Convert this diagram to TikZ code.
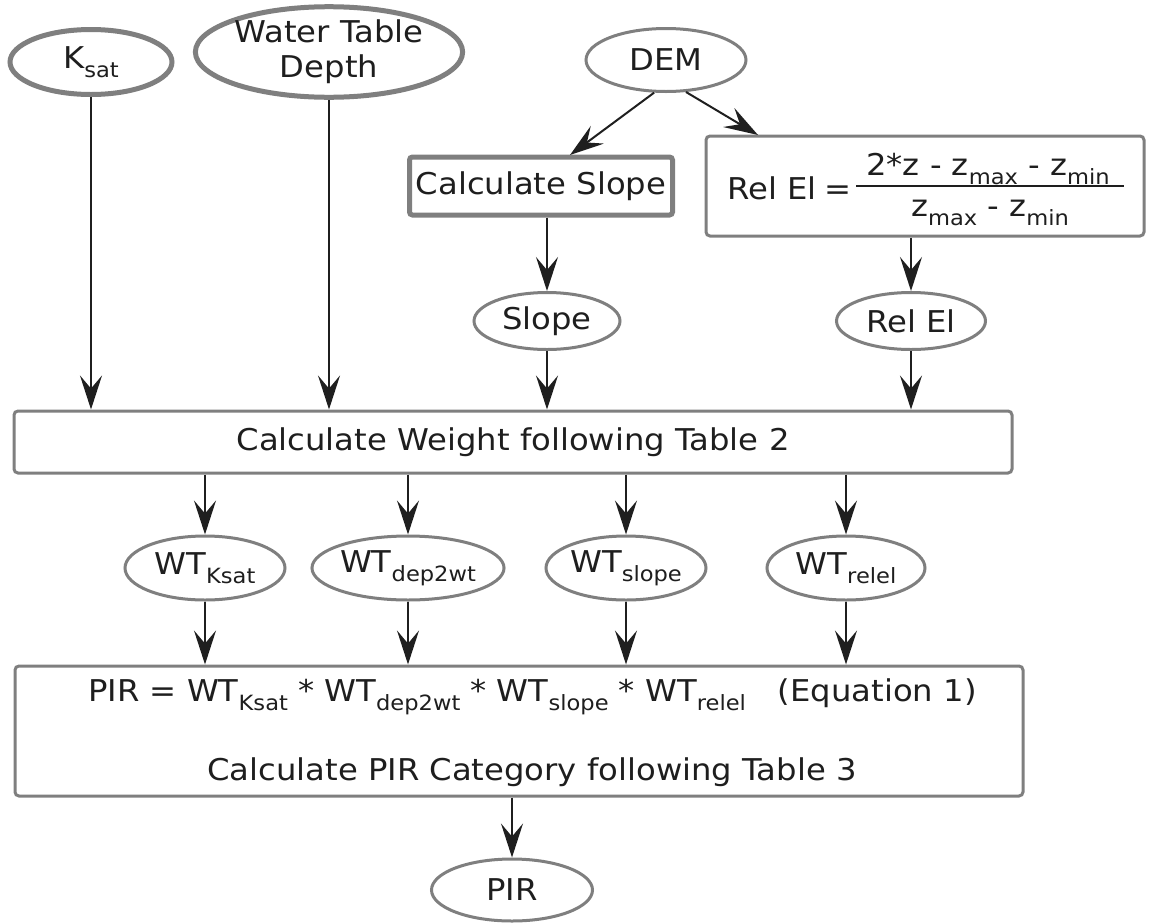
\documentclass[tikz,border=0pt]{standalone}
\usepackage{fontspec}
\setmainfont{DejaVu Sans}[FakeStretch=1.075]
\usetikzlibrary{arrows.meta,shapes.geometric}
\newcommand\sbs[1]{\raisebox{-0.3em}{\fontsize{21}{21}\selectfont #1}}
\definecolor{edgegray}{HTML}{7F7F7F}
\definecolor{txt}{HTML}{1E1E1E}
\begin{document}
\begin{tikzpicture}[x=1pt,y=-1pt,
  every node/.style={font=\fontsize{30}{35}\selectfont, text=txt},
  thickell/.style={ellipse, draw=edgegray, line width=5pt, inner sep=0pt, fill=white},
  thinell/.style={ellipse, draw=edgegray, line width=3pt, inner sep=0pt, fill=white},
  thickbox/.style={rectangle, draw=edgegray, line width=5pt, rounded corners=3pt, inner sep=0pt, fill=white},
  thinbox/.style={rectangle, draw=edgegray, line width=3pt, rounded corners=4pt, inner sep=0pt, fill=white},
  conn/.style={draw=black!88, line width=2pt, -{Stealth[length=34pt,width=22pt,inset=13pt]}},
  plain/.style={inner sep=0pt}
]
\useasboundingbox (0,0) rectangle (1149,924);

% top inputs
\node[thickell, minimum width=162pt, minimum height=65pt] (ksat) at (91,62) {K\sbs{sat}};
\node[thickell, minimum width=243pt, minimum height=90pt, align=center] (wtd) at (329,52)
  {\fontsize{30}{35}\selectfont Water Table\\Depth};
\node[thinell, minimum width=160pt, minimum height=63pt] (dem) at (666,60) {DEM};

% processing boxes
\node[thickbox, minimum width=263pt, minimum height=58pt] (cslope) at (541,186) {Calculate Slope};
\node[thinbox, minimum width=438pt, minimum height=100pt] (relbox) at (925,186) {};
\node[plain, anchor=base west] (releq) at (727,199) {Rel El\hspace{-2pt} =};
\node[plain, anchor=base] (num) at (988,175) {2*z - z\sbs{max} - z\sbs{min}};
\node[plain, anchor=base] (den) at (990,216) {z\sbs{max} - z\sbs{min}};
\draw[draw=txt, line width=2pt] (856,186) -- (1124,186);

% derived
\node[thinell, minimum width=146pt, minimum height=57pt] (slope) at (547,321) {Slope};
\node[thinell, minimum width=149pt, minimum height=57pt] (relel) at (911,321) {Rel El};

% weights
\node[thinbox, minimum width=998pt, minimum height=62pt] (weight) at (513,442) {Calculate Weight following Table 2};

\node[thinell, minimum width=160pt, minimum height=64pt] (wk) at (205,568) {WT\sbs{Ksat}};
\node[thinell, minimum width=155pt, minimum height=64pt] (wd) at (408,568) {WT\sbs{dep2wt}};
\node[thinell, minimum width=160pt, minimum height=64pt] (ws) at (626,568) {WT\sbs{slope}};
\node[thinell, minimum width=158pt, minimum height=64pt] (wr) at (846,568) {WT\sbs{relel}};

% PIR
\node[thinbox, minimum width=1008pt, minimum height=130pt] (pirbox) at (519,731) {};
\node[plain, anchor=base west] (eq) at (88,701) {PIR = WT\sbs{Ksat} * WT\sbs{dep2wt} * WT\sbs{slope} * WT\sbs{relel}\hspace{32pt}(Equation 1)};
\node[plain, anchor=base west] (cat) at (207,780) {Calculate PIR Category following Table 3};
\node[thinell, minimum width=161pt, minimum height=62pt] (pir) at (512,890) {PIR};

% connectors
\draw[conn] (ksat.south) -- (ksat.south |- weight.north);
\draw[conn] (wtd.south) -- (wtd.south |- weight.north);
\draw[conn] (dem.250) -- (570,155);
\draw[conn] (dem.302) -- (758,135);
\draw[conn] (cslope.south -| slope.north) -- (slope.north);
\draw[conn] (relel.north |- relbox.south) -- (relel.north);
\draw[conn] (slope.south) -- (slope.south |- weight.north);
\draw[conn] (relel.south) -- (relel.south |- weight.north);
\draw[conn] (wk.north |- weight.south) -- (wk.north);
\draw[conn] (wd.north |- weight.south) -- (wd.north);
\draw[conn] (ws.north |- weight.south) -- (ws.north);
\draw[conn] (wr.north |- weight.south) -- (wr.north);
\draw[conn] (wk.south) -- (wk.south |- pirbox.north);
\draw[conn] (wd.south) -- (wd.south |- pirbox.north);
\draw[conn] (ws.south) -- (ws.south |- pirbox.north);
\draw[conn] (wr.south) -- (wr.south |- pirbox.north);
\draw[conn] (pir.north |- pirbox.south) -- (pir.north);
\end{tikzpicture}
\end{document}
